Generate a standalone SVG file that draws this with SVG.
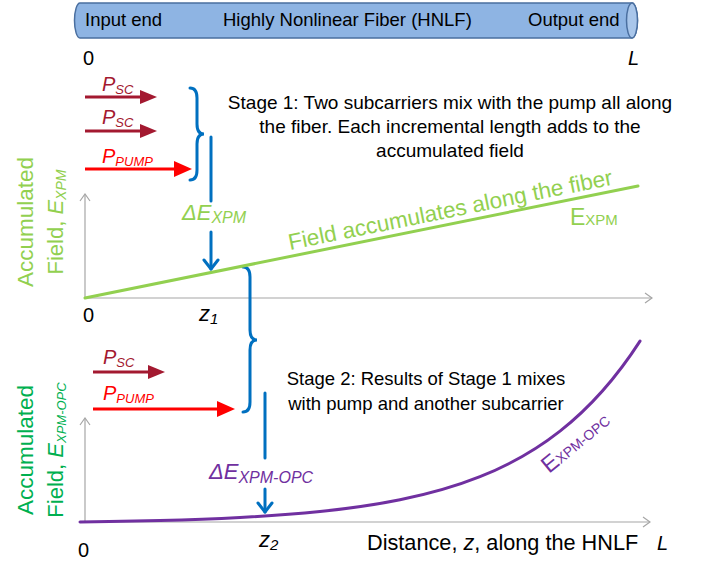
<svg xmlns="http://www.w3.org/2000/svg" width="704" height="562" viewBox="0 0 704 562">
<defs>
<style>
text{font-family:"Liberation Sans",Arial,sans-serif;}
.blk{fill:#000;}
.it{font-style:italic;}
.ax{stroke:#A6A6A6;stroke-width:1.2;fill:none;}
.sc{stroke:#A31930;stroke-width:3;fill:none;}
.pump{stroke:#FF0000;stroke-width:3;fill:none;}
.blue{stroke:#0070C0;stroke-width:3;fill:none;stroke-linecap:round;}
.lg{fill:#92D050;}
.dg{fill:#00B050;}
.pu{fill:#7030A0;}
.scT{fill:#A31930;}
.pT{fill:#FF0000;}
</style>
<marker id="hSC" viewBox="0 0 17 14" refX="7" refY="7" markerWidth="17" markerHeight="14" markerUnits="userSpaceOnUse" orient="auto"><path d="M0,0 L17,7 L0,14 Z" fill="#A31930"/></marker>
<marker id="hP" viewBox="0 0 18 16" refX="8" refY="8" markerWidth="18" markerHeight="16" markerUnits="userSpaceOnUse" orient="auto"><path d="M0,0 L18,8 L0,16 Z" fill="#FF0000"/></marker>
<marker id="hB" viewBox="-2 -2 14 18" refX="9" refY="7" markerWidth="14" markerHeight="18" markerUnits="userSpaceOnUse" orient="auto"><path d="M0,0 L9,7 L0,14" fill="none" stroke="#0070C0" stroke-width="3" stroke-linecap="round" stroke-linejoin="round"/></marker>
<marker id="hA" viewBox="-1 -1 9 12" refX="7" refY="5" markerWidth="9" markerHeight="12" markerUnits="userSpaceOnUse" orient="auto"><path d="M0,0 L7,5 L0,10" fill="none" stroke="#A6A6A6" stroke-width="1.2"/></marker>
</defs>
<rect width="704" height="562" fill="#fff"/>

<g id="fiber">
<path d="M80,3 L632,3 A5.5,17.5 0 0 1 632,38 L80,38 A5.5,17.5 0 0 1 80,3 Z" fill="#8EB4E3" stroke="#4A6FA0" stroke-width="1.5"/>
<ellipse cx="632" cy="20.5" rx="5.5" ry="17.5" fill="#A9C6EA" stroke="#4A6FA0" stroke-width="1.5"/>
<text x="85" y="26" font-size="18.5" class="blk">Input end</text>
<text x="223" y="26" font-size="18.5" class="blk">Highly Nonlinear Fiber (HNLF)</text>
<text x="528" y="26" font-size="18.5" class="blk">Output end</text>
<text x="83" y="65" font-size="20" class="blk">0</text>
<text x="628" y="65" font-size="20" class="blk it">L</text>
</g>

<g id="connectors">
<path class="ax" d="M85,298 L85,194" marker-end="url(#hA)"/>
<path class="ax" d="M85,298 L652,298" marker-end="url(#hA)"/>
<path class="ax" d="M85,522 L85,418" marker-end="url(#hA)"/>
<path class="ax" d="M85,522 L650,522" marker-end="url(#hA)"/>
<path class="sc" d="M85,97 L147,97" marker-end="url(#hSC)"/>
<path class="sc" d="M85,131 L147,131" marker-end="url(#hSC)"/>
<path class="pump" d="M85,169 L182,169" marker-end="url(#hP)"/>
<path class="sc" d="M93,372 L155,372" marker-end="url(#hSC)"/>
<path class="pump" d="M93,409 L225,409" marker-end="url(#hP)"/>
<path class="blue" d="M190,88 Q197,88 197,98 L197,124 Q197,134 204,134 Q197,134 197,144 L197,170 Q197,180 190,180"/>
<path class="blue" d="M211,137 L211,201"/>
<path class="blue" d="M211,232 L211,269" marker-end="url(#hB)"/>
<path class="blue" d="M243,267 Q250,267 250,277 L250,330 Q250,340 257,340 Q250,340 250,350 L250,402 Q250,412 243,412"/>
<path class="blue" d="M265,393 L265,458"/>
<path class="blue" d="M265,489 L265,512" marker-end="url(#hB)"/>
<path d="M85,298 L638,186" stroke="#92D050" stroke-width="3" stroke-linecap="round" fill="none"/>
<path d="M80,522 C106.67,521.65 133.33,521.18 160,520.48 C186.67,519.78 213.33,518.85 240,517.47 C266.67,516.09 293.33,514.27 320,511.54 C346.67,508.82 373.33,505.21 400,499.83 C426.67,494.45 453.33,487.35 480,476.73 C506.67,466.12 533.33,452.07 560,431.11 C586.67,410.15 613.33,382.45 640,341.09" stroke="#7030A0" stroke-width="3" stroke-linecap="round" fill="none"/>
</g>

<g id="stage1">
<text x="102" y="91" font-size="20" class="scT it">P<tspan font-size="13" dy="3">SC</tspan></text>
<text x="102" y="124" font-size="20" class="scT it">P<tspan font-size="13" dy="3">SC</tspan></text>
<text x="102" y="163" font-size="20" class="pT it">P<tspan font-size="13" dy="3">PUMP</tspan></text>
<text font-size="19" class="blk" text-anchor="middle"><tspan x="450" y="109">Stage 1: Two subcarriers mix with the pump all along</tspan><tspan x="450" y="133">the fiber. Each incremental length adds to the</tspan><tspan x="450" y="157">accumulated field</tspan></text>
<text x="182" y="220" font-size="22" class="lg it">ΔE<tspan font-size="16" dy="3">XPM</tspan></text>
<text x="290" y="250" font-size="22.5" class="lg" transform="rotate(-11.45 290 250)">Field accumulates along the fiber</text>
<text x="570" y="225" font-size="23" class="lg">E<tspan font-size="15">XPM</tspan></text>
<text font-size="22.5" class="lg" text-anchor="middle" transform="translate(33,222) rotate(-90)">Accumulated</text>
<text font-size="22" class="lg" text-anchor="middle" transform="translate(63,222) rotate(-90)">Field, <tspan class="it">E</tspan><tspan class="it" font-size="14" dy="3">XPM</tspan></text>
<text x="83" y="322" font-size="20" class="blk">0</text>
<text x="199" y="321" font-size="22" class="blk it">z<tspan font-size="15" dy="3">1</tspan></text>
</g>

<g id="stage2">
<text x="103" y="364" font-size="20" class="scT it">P<tspan font-size="13" dy="3">SC</tspan></text>
<text x="103" y="400" font-size="20" class="pT it">P<tspan font-size="13" dy="3">PUMP</tspan></text>
<text font-size="18.5" class="blk" text-anchor="middle"><tspan x="426" y="385">Stage 2: Results of Stage 1 mixes</tspan><tspan x="426" y="410">with pump and another subcarrier</tspan></text>
<text x="209" y="479" font-size="22" class="pu it">ΔE<tspan font-size="16" dy="4">XPM-OPC</tspan></text>
<text x="549" y="474" font-size="23" class="pu" transform="rotate(-39.5 549 474)">E<tspan font-size="14">XPM-OPC</tspan></text>
<text font-size="22.5" class="dg" text-anchor="middle" transform="translate(33,450) rotate(-90)">Accumulated</text>
<text font-size="22" class="dg" text-anchor="middle" transform="translate(63,450) rotate(-90)">Field, <tspan class="it">E</tspan><tspan class="it" font-size="13" dy="3">XPM-OPC</tspan></text>
<text x="78" y="557" font-size="20" class="blk">0</text>
<text x="259" y="547" font-size="22" class="blk it">z<tspan font-size="15" dy="3">2</tspan></text>
<text x="367" y="550" font-size="21.7" class="blk">Distance, <tspan class="it">z</tspan>, along the HNLF</text>
<text x="657" y="550" font-size="20" class="blk it">L</text>
</g>
</svg>
